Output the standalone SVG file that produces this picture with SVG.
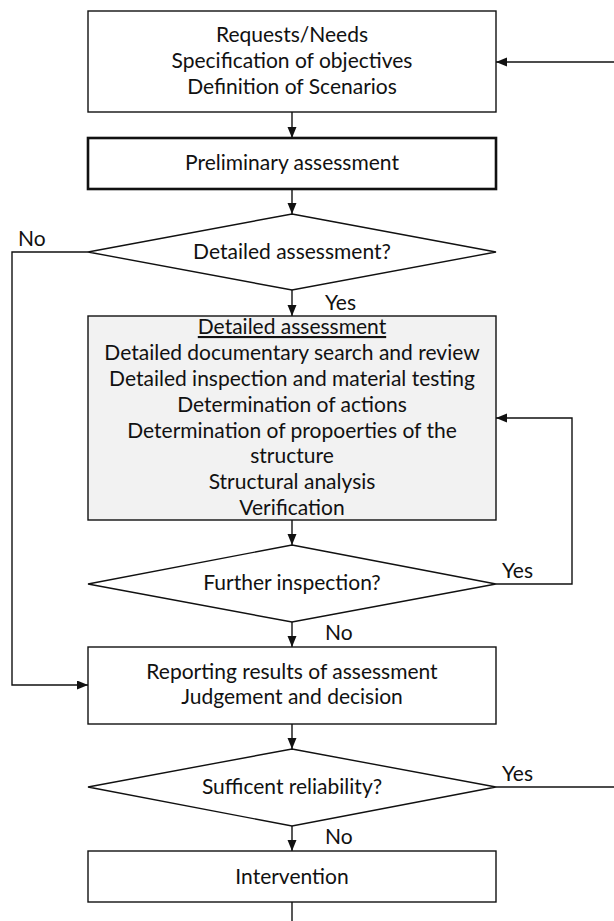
<svg xmlns="http://www.w3.org/2000/svg" width="614" height="921" viewBox="0 0 614 921">
<style>
  text { font-family: Lato, "Open Sans", "Liberation Sans", sans-serif; font-size: 21px; fill: #111; }
  .c { text-anchor: middle; }
  .box { fill: #fff; stroke: #111; stroke-width: 1.4; }
  .thick { fill: #fff; stroke: #111; stroke-width: 2.6; }
  .grey { fill: #f2f2f2; stroke: #111; stroke-width: 1.4; }
  .conn { fill: none; stroke: #111; stroke-width: 1.4; }
  .arr { marker-end: url(#ah); }
</style>
<defs>
  <marker id="ah" markerUnits="userSpaceOnUse" markerWidth="12" markerHeight="10" refX="11" refY="4.5" orient="auto">
    <path d="M0,0 L11,4.5 L0,9 z" fill="#111"/>
  </marker>
</defs>
<rect width="614" height="921" fill="#fff"/>

<g id="connectors">
  <path class="conn arr" d="M614,62 H496"/>
  <path class="conn arr" d="M292,112 V138"/>
  <path class="conn arr" d="M292,189 V214"/>
  <path class="conn arr" d="M88,252 H12 V685 H88"/>
  <path class="conn arr" d="M292,290 V316"/>
  <path class="conn arr" d="M292,520 V545"/>
  <path class="conn arr" d="M496,584 H572 V418 H496"/>
  <path class="conn arr" d="M292,622 V647"/>
  <path class="conn arr" d="M292,724 V749"/>
  <path class="conn" d="M496,787 H614"/>
  <path class="conn arr" d="M292,826 V851"/>
  <path class="conn" d="M292,902 V921"/>
  <text x="18" y="246">No</text>
  <text x="325" y="310">Yes</text>
  <text x="502" y="578">Yes</text>
  <text x="325" y="640">No</text>
  <text x="502" y="781">Yes</text>
  <text x="325" y="844">No</text>
</g>

<g id="requests">
  <rect class="box" x="88" y="11" width="408" height="101"/>
  <text class="c" x="292" y="42">Requests/Needs</text>
  <text class="c" x="292" y="68">Specification of objectives</text>
  <text class="c" x="292" y="94">Definition of Scenarios</text>
</g>

<g id="preliminary">
  <rect class="thick" x="88" y="138" width="408" height="51"/>
  <text class="c" x="292" y="170">Preliminary assessment</text>
</g>

<g id="decision-detailed">
  <polygon class="box" points="292,214 496,252 292,290 88,252"/>
  <text class="c" x="292" y="259">Detailed assessment?</text>
</g>

<g id="detailed">
  <rect class="grey" x="88" y="316" width="408" height="204"/>
  <text class="c" x="292" y="334" text-decoration="underline">Detailed assessment</text>
  <text class="c" x="292" y="360">Detailed documentary search and review</text>
  <text class="c" x="292" y="386">Detailed inspection and material testing</text>
  <text class="c" x="292" y="412">Determination of actions</text>
  <text class="c" x="292" y="438">Determination of propoerties of the</text>
  <text class="c" x="292" y="463">structure</text>
  <text class="c" x="292" y="489">Structural analysis</text>
  <text class="c" x="292" y="515">Verification</text>
</g>

<g id="decision-further">
  <polygon class="box" points="292,545 496,584 292,622 88,584"/>
  <text class="c" x="292" y="590">Further inspection?</text>
</g>

<g id="reporting">
  <rect class="box" x="88" y="647" width="408" height="77"/>
  <text class="c" x="292" y="679">Reporting results of assessment</text>
  <text class="c" x="292" y="704">Judgement and decision</text>
</g>

<g id="decision-reliability">
  <polygon class="box" points="292,749 496,787 292,826 88,787"/>
  <text class="c" x="292" y="794">Sufficent reliability?</text>
</g>

<g id="intervention">
  <rect class="box" x="88" y="851" width="408" height="51"/>
  <text class="c" x="292" y="884">Intervention</text>
</g>
</svg>
